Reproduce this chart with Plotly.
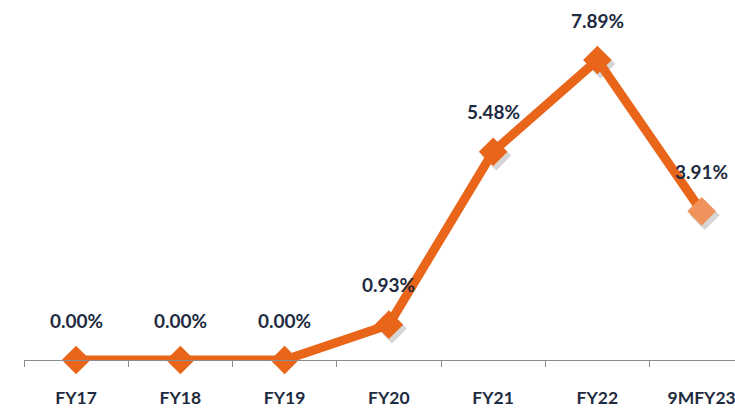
import plotly.graph_objects as go

categories = ["FY17", "FY18", "FY19", "FY20", "FY21", "FY22", "9MFY23"]
values = [0.00, 0.00, 0.00, 0.93, 5.48, 7.89, 3.91]
labels = ["0.00%", "0.00%", "0.00%", "0.93%", "5.48%", "7.89%", "3.91%"]

orange = "#E8651A"
light = "#F0925C"
txt = "#1E2B40"
marker_colors = [orange] * (len(values) - 1) + [light]

fig = go.Figure()
# soft shadow (drawn on the base axes, beneath the overlay)
fig.add_trace(go.Scatter(
    x=categories, y=values, mode="markers",
    marker=dict(symbol="diamond", size=23, color="rgba(70,70,70,0.22)"),
    hoverinfo="skip", cliponaxis=False, xaxis="x", yaxis="y",
))
fig.add_trace(go.Scatter(
    x=categories, y=values, mode="lines+markers",
    line=dict(color=orange, width=9),
    marker=dict(symbol="diamond", size=22, color=marker_colors),
    cliponaxis=False, xaxis="x2", yaxis="y2",
))
for c, v, t in zip(categories, values, labels):
    fig.add_annotation(x=c, y=v, xref="x2", yref="y2", text=t, showarrow=False, yshift=40,
                       font=dict(family="Lato", size=19, color=txt, weight="bold"))

fig.update_layout(
    width=735, height=410,
    margin=dict(l=24, r=0, t=0, b=50),
    plot_bgcolor="white", paper_bgcolor="white",
    showlegend=False,
    xaxis=dict(range=[-0.5 - 0.03, 6.32 - 0.03], visible=False),
    yaxis=dict(range=[0 + 0.1, 9.47 + 0.1], visible=False),
    xaxis2=dict(range=[-0.5, 6.32], overlaying="x", side="bottom",
                showgrid=False, showline=True, linecolor="#8C8C8C",
                linewidth=1, ticks="outside", tickson="boundaries", ticklen=6,
                tickcolor="#8C8C8C", ticklabelstandoff=22,
                tickfont=dict(family="Lato", size=17.5, color=txt, weight="bold"),
                zeroline=False),
    yaxis2=dict(range=[0, 9.47], overlaying="y", visible=False,
                showgrid=False, zeroline=False),
)

fig.write_html("out.html")
